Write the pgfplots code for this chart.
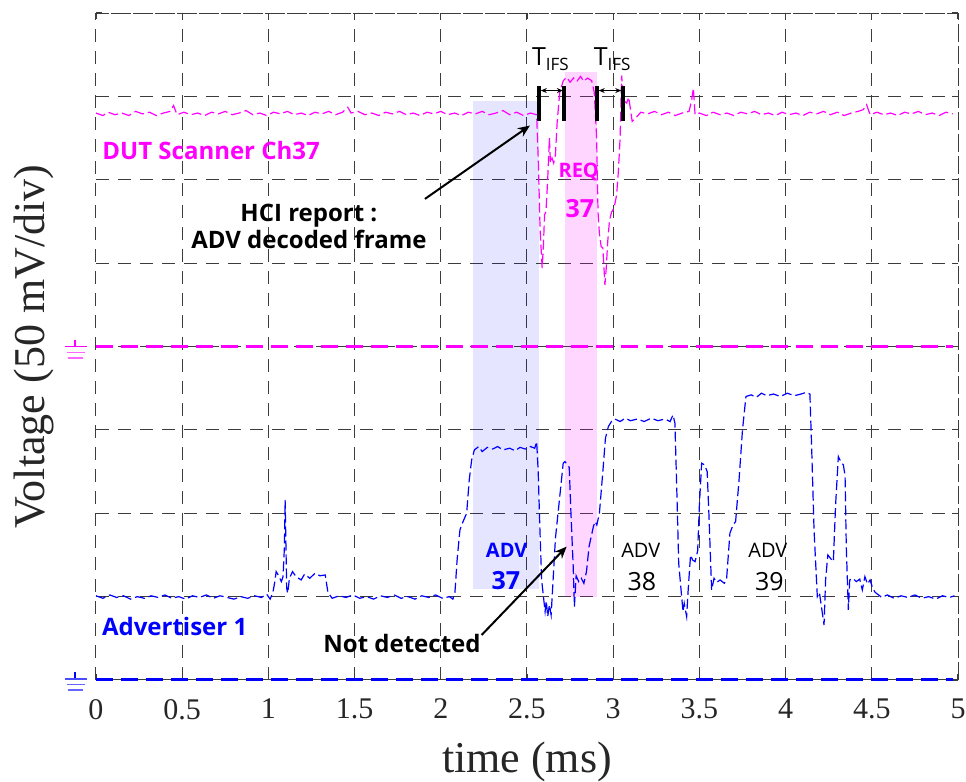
\documentclass[border=0pt]{standalone}
\usepackage{fontspec}
\setmainfont{Liberation Serif}
\newfontfamily\osans{Open Sans}
\usepackage{pgfplots}
\pgfplotsset{compat=1.18}
\usetikzlibrary{arrows.meta}
\definecolor{gridc}{RGB}{60,60,60}
\definecolor{magc}{RGB}{255,0,255}
\definecolor{bluc}{RGB}{0,0,255}

\pgfplotstableread{
x y
0.00 6.80
0.04 6.77
0.07 6.81
0.11 6.78
0.15 6.80
0.19 6.77
0.23 6.82
0.27 6.79
0.31 6.81
0.35 6.77
0.39 6.80
0.43 6.82
0.45 6.89
0.47 6.78
0.51 6.81
0.55 6.78
0.59 6.80
0.63 6.77
0.67 6.81
0.71 6.79
0.75 6.82
0.79 6.78
0.83 6.80
0.87 6.83
0.91 6.78
0.95 6.80
0.99 6.77
1.03 6.81
1.07 6.79
1.11 6.82
1.15 6.78
1.19 6.80
1.23 6.77
1.27 6.81
1.31 6.79
1.35 6.82
1.39 6.78
1.43 6.81
1.46 6.87
1.48 6.80
1.52 6.82
1.56 6.78
1.60 6.80
1.64 6.77
1.68 6.81
1.72 6.79
1.76 6.82
1.80 6.78
1.84 6.80
1.88 6.77
1.92 6.81
1.96 6.79
2.00 6.82
2.04 6.78
2.08 6.80
2.12 6.77
2.16 6.81
2.20 6.79
2.24 6.82
2.28 6.78
2.32 6.80
2.36 6.83
2.40 6.78
2.44 6.81
2.48 6.77
2.52 6.80
2.556 6.78
2.566 6.20
2.576 5.40
2.588 4.94
2.595 5.20
2.602 5.58
2.610 5.62
2.620 6.00
2.630 6.50
2.636 6.20
2.645 6.26
2.655 6.20
2.665 6.30
2.675 6.69
2.690 7.05
2.711 7.19
2.73 7.23
2.75 7.17
2.77 7.22
2.79 7.18
2.81 7.24
2.83 7.18
2.85 7.22
2.875 7.19
2.890 7.05
2.904 6.50
2.912 5.61
2.920 5.35
2.930 5.20
2.940 5.18
2.952 4.74
2.960 4.95
2.968 5.25
2.978 5.50
2.990 5.61
3.005 5.66
3.020 5.82
3.030 6.10
3.040 6.50
3.049 7.25
3.060 6.95
3.078 6.92
3.090 6.99
3.110 6.70
3.135 6.75
3.160 6.81
3.20 6.79
3.24 6.82
3.28 6.78
3.32 6.81
3.36 6.77
3.40 6.80
3.44 6.82
3.455 6.95
3.465 7.10
3.475 6.78
3.50 6.80
3.54 6.77
3.58 6.81
3.62 6.78
3.66 6.80
3.70 6.77
3.74 6.81
3.78 6.79
3.82 6.82
3.86 6.78
3.90 6.80
3.94 6.77
3.98 6.81
4.02 6.78
4.06 6.80
4.10 6.77
4.14 6.81
4.18 6.79
4.22 6.82
4.26 6.78
4.30 6.81
4.34 6.77
4.38 6.80
4.42 6.82
4.45 6.84
4.47 6.90
4.49 6.78
4.53 6.81
4.57 6.78
4.61 6.80
4.65 6.77
4.69 6.81
4.73 6.79
4.77 6.82
4.81 6.78
4.85 6.80
4.89 6.77
4.93 6.81
4.97 6.79
}\magtab

\pgfplotstableread{
x y
0.00 1.01
0.04 0.98
0.08 1.02
0.12 0.99
0.16 1.01
0.20 0.97
0.24 1.00
0.28 0.98
0.32 1.01
0.36 0.99
0.40 1.02
0.44 0.98
0.48 1.00
0.52 0.97
0.56 1.01
0.60 0.99
0.64 1.02
0.68 0.98
0.72 1.01
0.76 0.99
0.80 0.97
0.84 1.00
0.88 0.98
0.92 1.01
0.96 0.99
0.99 1.03
1.01 0.97
1.025 1.04
1.035 1.15
1.045 1.30
1.060 1.25
1.075 1.18
1.085 1.24
1.093 1.60
1.097 2.16
1.101 1.70
1.106 1.10
1.112 1.04
1.122 1.22
1.140 1.30
1.160 1.24
1.190 1.20
1.210 1.27
1.240 1.22
1.270 1.28
1.300 1.25
1.330 1.26
1.345 1.05
1.37 0.98
1.41 1.01
1.45 0.99
1.49 1.02
1.53 0.98
1.57 1.00
1.61 0.97
1.65 1.01
1.69 0.99
1.73 1.02
1.77 0.98
1.81 1.00
1.85 0.97
1.89 1.01
1.93 0.99
1.97 1.02
2.01 0.98
2.05 1.00
2.070 0.97
2.082 1.05
2.095 1.45
2.111 1.80
2.125 1.88
2.150 2.00
2.165 2.40
2.179 2.64
2.195 2.76
2.22 2.80
2.24 2.74
2.27 2.79
2.30 2.77
2.33 2.80
2.36 2.76
2.40 2.78
2.43 2.75
2.46 2.79
2.49 2.77
2.52 2.80
2.545 2.78
2.556 2.86
2.565 2.50
2.575 1.80
2.585 1.20
2.598 0.95
2.605 0.82
2.612 0.95
2.620 0.76
2.630 0.90
2.640 0.78
2.650 1.15
2.665 1.70
2.690 2.20
2.710 2.60
2.720 2.62
2.735 2.58
2.745 2.55
2.755 2.00
2.768 1.36
2.775 0.88
2.785 1.25
2.800 1.18
2.815 1.22
2.830 1.16
2.845 1.30
2.860 1.60
2.885 1.84
2.895 1.90
2.905 1.86
2.920 2.00
2.940 2.50
2.955 2.90
2.972 3.04
2.990 3.10
3.01 3.13
3.04 3.10
3.07 3.14
3.10 3.11
3.14 3.13
3.18 3.10
3.22 3.14
3.26 3.11
3.30 3.13
3.33 3.10
3.347 3.18
3.358 3.08
3.370 2.20
3.380 1.40
3.397 1.00
3.405 0.82
3.412 0.92
3.426 0.76
3.434 1.05
3.442 1.30
3.449 1.50
3.460 1.44
3.475 1.42
3.490 1.55
3.500 2.10
3.513 2.60
3.530 2.58
3.545 2.50
3.555 2.00
3.571 1.08
3.585 1.22
3.600 1.17
3.620 1.20
3.645 1.16
3.658 1.22
3.677 1.76
3.695 1.86
3.710 1.90
3.730 2.40
3.750 3.00
3.770 3.40
3.80 3.42
3.83 3.39
3.86 3.44
3.89 3.41
3.93 3.43
3.97 3.40
4.01 3.44
4.05 3.41
4.09 3.43
4.12 3.45
4.141 3.43
4.151 2.80
4.165 1.80
4.184 1.00
4.196 1.05
4.205 0.92
4.223 0.66
4.232 1.20
4.245 1.50
4.260 1.46
4.277 1.42
4.290 2.10
4.306 2.68
4.320 2.62
4.335 2.58
4.345 2.45
4.352 1.60
4.364 0.84
4.372 1.20
4.390 1.22
4.410 1.18
4.430 1.21
4.445 1.08
4.460 1.24
4.475 1.15
4.490 1.20
4.505 1.10
4.520 1.05
4.540 1.02
4.557 0.99
4.59 1.02
4.63 0.98
4.67 1.01
4.71 0.99
4.75 1.02
4.79 0.98
4.83 1.00
4.87 0.97
4.91 1.01
4.95 0.99
4.98 1.01
}\bluetab

\begin{document}
\begin{tikzpicture}
\begin{axis}[
  scale only axis, width=431pt, height=333.5pt,
  xmin=0, xmax=5, ymin=0, ymax=8,
  xtick={0,0.5,1,1.5,2,2.5,3,3.5,4,4.5,5},
  xticklabels={0,0.5,1,1.5,2,2.5,3,3.5,4,4.5,5},
  ytick={0,1,2,3,4,5,6,7,8}, yticklabels={},
  grid=major,
  grid style={gridc, line width=0.5pt, dash pattern=on 6.5pt off 4.5pt},
  axis line style={gridc, line width=0.5pt, dash pattern=on 6.5pt off 4.5pt},
  tick style={gridc, line width=0.6pt},
  major tick length=3pt,
  tick align=inside,
  clip=false,
  /pgf/number format/assume math mode=true,
  ticklabel style={font=\fontsize{15}{18}\selectfont, text=black!85},
  xticklabel style={yshift=-6pt},
  xlabel={time (ms)}, ylabel={Voltage (50 mV/div)},
  label style={font=\fontsize{22}{26}\selectfont, text=black!85},
  xlabel style={at={(axis description cs:0.5,-0.138)}, anchor=base},
  ylabel style={at={(axis description cs:-0.0592,0.5)}, anchor=base},
]
\coordinate (BL) at (rel axis cs:0,0);
\coordinate (TR) at (rel axis cs:1,1);

% shaded frames (translucent so the grid shows through)
\addplot[draw=none, fill=bluc, fill opacity=0.102, forget plot]
  coordinates {(2.187,1.09) (2.572,1.09) (2.572,6.95) (2.187,6.95)} -- cycle;
\addplot[draw=none, fill=magc, fill opacity=0.16, forget plot]
  coordinates {(2.720,1.00) (2.904,1.00) (2.904,7.29) (2.720,7.29)} -- cycle;

% ground lines
\addplot[magc, line width=1.5pt, dash pattern=on 8.5pt off 4pt] coordinates {(0,4) (4.97,4)};
\addplot[bluc, line width=1.5pt, dash pattern=on 8.5pt off 4pt] coordinates {(0,0) (4.97,0)};

% traces
\addplot[magc, line width=0.6pt, dash pattern=on 5pt off 2pt] table[x=x,y=y] {\magtab};
\addplot[bluc, line width=0.6pt, dash pattern=on 5pt off 2pt] table[x=x,y=y] {\bluetab};

% ground symbols
\draw[magc, line width=0.8pt] ([xshift=-10.5pt]axis cs:0,4) -- ++(0,3.5pt);
\draw[magc, line width=0.7pt] ([xshift=-15.5pt]axis cs:0,4) -- ++(11pt,0);
\draw[magc!60, line width=0.7pt] ([xshift=-14.5pt,yshift=-3pt]axis cs:0,4) -- ++(9pt,0);
\draw[magc!60, line width=0.7pt] ([xshift=-14pt,yshift=-5.8pt]axis cs:0,4) -- ++(7.5pt,0);
\draw[bluc, line width=0.8pt] ([xshift=-10.5pt,yshift=0.5pt]axis cs:0,0) -- ++(0,3.5pt);
\draw[bluc!70, line width=0.7pt] ([xshift=-15.5pt,yshift=0.5pt]axis cs:0,0) -- ++(11pt,0);
\draw[bluc!60, line width=0.7pt] ([xshift=-14.5pt,yshift=-2.2pt]axis cs:0,0) -- ++(9pt,0);
\draw[bluc!60, line width=0.7pt] ([xshift=-14pt,yshift=-5pt]axis cs:0,0) -- ++(7.5pt,0);

% labels
\node[anchor=west, inner sep=0, text=magc, font=\osans\bfseries\fontsize{12}{14}\selectfont] at (axis cs:0.035,6.35) {DUT Scanner Ch37};
\node[anchor=west, inner sep=0, text=bluc, font=\osans\bfseries\fontsize{12}{14}\selectfont] at (axis cs:0.033,0.64) {Advertiser 1};
\node[align=center, inner sep=0, font=\osans\bfseries\fontsize{12}{13.5}\selectfont] at (axis cs:1.235,5.44) {HCI report :\\ADV decoded frame};
\draw[-{Stealth[length=6pt,width=5pt]}, line width=1pt] (axis cs:1.908,5.77) -- (axis cs:2.517,6.65);
\node[inner sep=0, font=\osans\bfseries\fontsize{12}{14}\selectfont] at (axis cs:1.775,0.44) {Not detected};
\draw[-{Stealth[length=6pt,width=5pt]}, line width=1pt] (axis cs:2.237,0.54) -- (axis cs:2.730,1.60);

\node[inner sep=0, text=magc, font=\osans\bfseries\fontsize{10}{12}\selectfont] at (axis cs:2.80,6.09) {REQ};
\node[inner sep=0, text=magc, font=\osans\bfseries\fontsize{12.5}{14}\selectfont] at (axis cs:2.807,5.66) {37};
\node[inner sep=0, text=bluc, font=\osans\bfseries\fontsize{10}{12}\selectfont] at (axis cs:2.382,1.56) {ADV};
\node[inner sep=0, text=bluc, font=\osans\bfseries\fontsize{12.5}{14}\selectfont] at (axis cs:2.377,1.19) {37};
\node[inner sep=0, font=\osans\fontsize{10}{12}\selectfont] at (axis cs:3.16,1.56) {ADV};
\node[inner sep=0, font=\osans\fontsize{12.5}{14}\selectfont] at (axis cs:3.167,1.18) {38};
\node[inner sep=0, font=\osans\fontsize{10}{12}\selectfont] at (axis cs:3.897,1.56) {ADV};
\node[inner sep=0, font=\osans\fontsize{12.5}{14}\selectfont] at (axis cs:3.906,1.18) {39};

% T_IFS markers
\node[anchor=base west, inner sep=0, font=\osans\fontsize{12.5}{14}\selectfont] at (axis cs:2.527,7.374) {T\raisebox{-2.9pt}{\fontsize{8.5}{10}\selectfont IFS}};
\node[anchor=base west, inner sep=0, font=\osans\fontsize{12.5}{14}\selectfont] at (axis cs:2.885,7.374) {T\raisebox{-2.9pt}{\fontsize{8.5}{10}\selectfont IFS}};
\draw[line width=2pt] (axis cs:2.572,6.71) -- (axis cs:2.572,7.13);
\draw[line width=2pt] (axis cs:2.716,6.71) -- (axis cs:2.716,7.13);
\draw[line width=2pt] (axis cs:2.908,6.71) -- (axis cs:2.908,7.13);
\draw[line width=2pt] (axis cs:3.055,6.71) -- (axis cs:3.055,7.13);
\draw[{Stealth[length=3pt,width=2.5pt]}-{Stealth[length=3pt,width=2.5pt]}, line width=0.6pt] (axis cs:2.580,7.07) -- (axis cs:2.708,7.07);
\draw[{Stealth[length=3pt,width=2.5pt]}-{Stealth[length=3pt,width=2.5pt]}, line width=0.6pt] (axis cs:2.916,7.07) -- (axis cs:3.047,7.07);
\end{axis}
\pgfresetboundingbox
\path[use as bounding box] ([shift={(-48pt,-51pt)}]BL) rectangle ([shift={(4pt,6.5pt)}]TR);
\end{tikzpicture}
\end{document}
